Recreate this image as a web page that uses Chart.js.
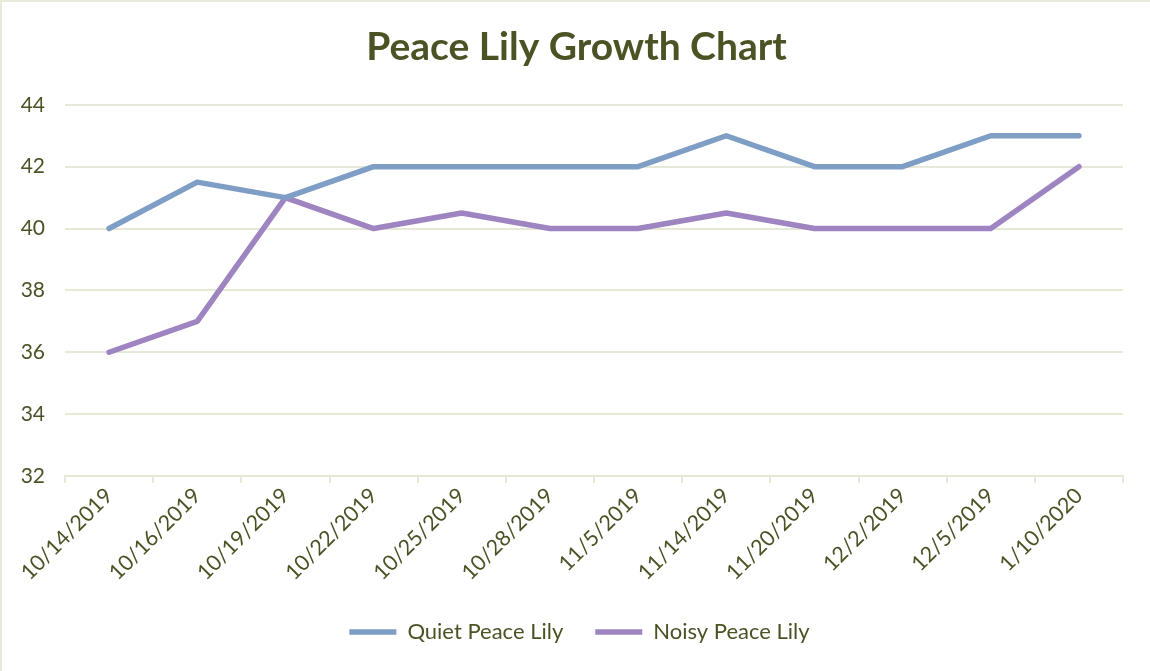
<!DOCTYPE html>
<html>
<head>
<meta charset="utf-8">
<script src="https://cdn.jsdelivr.net/npm/chart.js@4.4.1/dist/chart.umd.min.js"></script>
<style>
  html, body { margin: 0; padding: 0; background: #ffffff; }
  #wrap { position: relative; width: 1150px; height: 671px; }
  canvas { display: block; }
</style>
</head>
<body>
<div id="wrap"><canvas id="c" width="1150" height="671"></canvas></div>
<script>
const categories = ["10/14/2019","10/16/2019","10/19/2019","10/22/2019","10/25/2019","10/28/2019","11/5/2019","11/14/2019","11/20/2019","12/2/2019","12/5/2019","1/10/2020"];
const quietValues = [40, 41.5, 41, 42, 42, 42, 42, 43, 42, 42, 43, 43];
const noisyValues = [36, 37, 41, 40, 40.5, 40, 40, 40.5, 40, 40, 40, 42];
const seriesNames = ["Quiet Peace Lily", "Noisy Peace Lily"];
const titleText = "Peace Lily Growth Chart";
const yMin = 32, yMax = 44, yStep = 2;

const textColor = "#4b5325";
const gridColor = "#e6e9d8";
const FONT = "Lato, 'Liberation Sans', sans-serif";

const framePlugin = {
  id: "frame",
  afterLayout(chart) {
    // center title and legend on the full canvas width, as in the reference
    if (chart.titleBlock) { chart.titleBlock.left += 14; chart.titleBlock.right += 14; }
    if (chart.legend) { chart.legend.left += 17; chart.legend.right += 17; }
  },
  beforeDraw(chart) {
    const ctx = chart.ctx;
    ctx.save();
    ctx.fillStyle = "#ffffff";
    ctx.fillRect(0, 0, chart.width, chart.height);
    ctx.fillStyle = "#e8ebd9";
    ctx.fillRect(0, 0, chart.width, 2);
    ctx.fillRect(0, 0, 2, chart.height);
    ctx.restore();
  }
};

new Chart(document.getElementById("c"), {
  type: "line",
  data: {
    labels: categories,
    datasets: [
      { label: seriesNames[0], data: quietValues, borderColor: "#7f9ec5", backgroundColor: "#7f9ec5",
        borderWidth: 5.5, pointRadius: 0, pointHoverRadius: 0, tension: 0, borderCapStyle: "round", borderJoinStyle: "round", pointStyle: "line" },
      { label: seriesNames[1], data: noisyValues, borderColor: "#9e85c1", backgroundColor: "#9e85c1",
        borderWidth: 5.5, pointRadius: 0, pointHoverRadius: 0, tension: 0, borderCapStyle: "round", borderJoinStyle: "round", pointStyle: "line" }
    ]
  },
  options: {
    responsive: false,
    animation: false,
    devicePixelRatio: 1,
    layout: { padding: { left: 2, right: 27, top: 0, bottom: 18 } },
    plugins: {
      tooltip: { enabled: false },
      title: {
        display: true, text: titleText, color: textColor,
        font: { family: FONT, size: 39, weight: "bold", lineHeight: 1.2 },
        padding: { top: 24, bottom: 34 }
      },
      legend: {
        position: "bottom",
        labels: {
          color: textColor,
          font: { family: FONT, size: 22 },
          usePointStyle: true,
          pointStyleWidth: 47,
          boxWidth: 47,
          boxHeight: 10,
          padding: 32
        }
      }
    },
    scales: {
      x: {
        offset: true,
        grid: { offset: true, drawOnChartArea: false, drawTicks: true, tickLength: 7, color: gridColor, lineWidth: 2 },
        border: { display: true, color: gridColor, width: 2 },
        ticks: { color: textColor, font: { family: FONT, size: 21.5 }, maxRotation: 45, minRotation: 45, autoSkip: false, padding: 0 },
        afterFit(scale) { scale.height = 113; }
      },
      y: {
        min: yMin, max: yMax,
        grid: { color: gridColor, lineWidth: 2, drawTicks: false },
        border: { display: false },
        ticks: { stepSize: yStep, color: textColor, font: { family: FONT, size: 21 }, padding: 20 },
        afterFit(scale) { scale.width = 63; }
      }
    }
  },
  plugins: [framePlugin]
});
</script>
</body>
</html>
